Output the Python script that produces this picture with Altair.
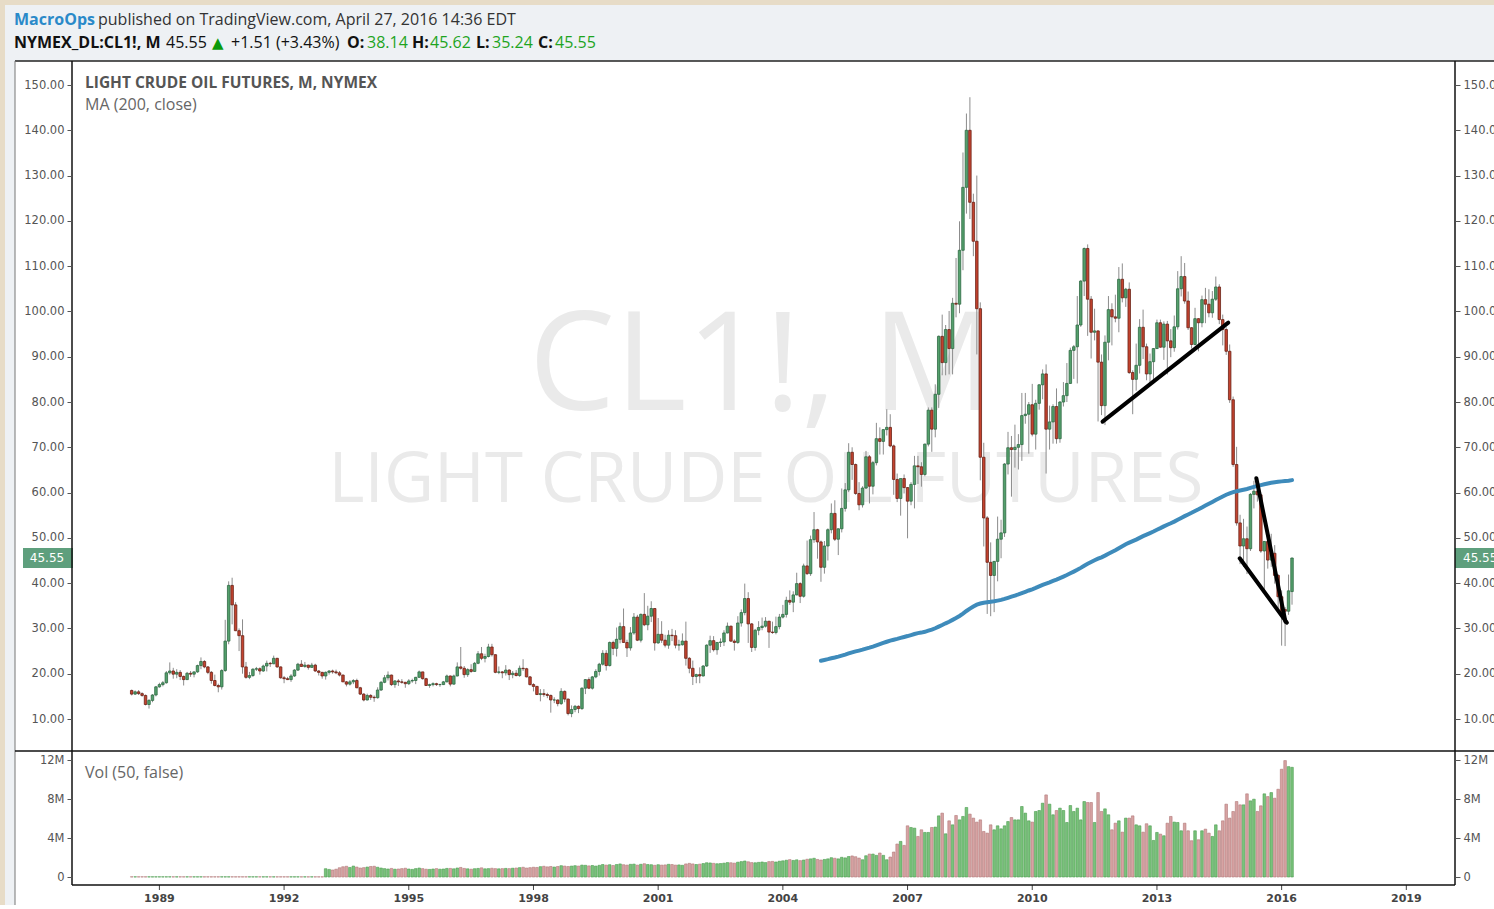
import altair as alt
import pandas as pd

# ---------------- data (monthly bars, first bar = May 1988) ----------------
FIRST_YEAR, FIRST_MONTH = 1988, 5

opens = [
    16.3, 15.5, 16.0, 15.6, 15.2, 13.2, 14.1, 15.3,
    17.1, 17.6, 18.0, 20.2, 20.6, 19.9, 20.3, 19.4, 18.7, 20.1, 19.9, 20.4,
    21.8, 22.7, 21.5, 20.3, 18.5, 17.4, 17.1, 20.7, 27.2, 39.5, 35.2, 29.5,
    28.4, 21.5, 19.2, 19.6, 21.0, 21.1, 20.6, 21.7, 22.3, 22.2, 23.4, 21.5,
    19.1, 18.9, 18.7, 19.5, 20.8, 22.1, 21.6, 21.9, 21.4, 21.9, 20.6, 20.3,
    19.5, 20.3, 20.6, 20.4, 20.2, 19.7, 18.2, 17.7, 18.2, 18.5, 16.9, 15.5,
    14.2, 15.2, 14.8, 14.7, 16.4, 18.1, 19.1, 19.7, 17.6, 18.4, 18.2, 18.1,
    17.8, 18.4, 18.5, 19.2, 20.4, 18.9, 17.4, 17.6, 17.8, 17.6, 17.6, 18.2,
    19.5, 17.7, 19.5, 21.5, 21.2, 19.8, 20.9, 20.5, 22.3, 24.4, 23.4, 23.8,
    25.9, 24.2, 20.3, 20.4, 20.2, 20.8, 19.8, 20.1, 19.6, 21.2, 21.1, 19.3,
    17.6, 17.2, 15.4, 15.6, 15.4, 15.2, 14.2, 14.2, 13.4, 16.1, 14.4, 11.2,
    12.1, 12.8, 12.3, 16.8, 18.7, 16.8, 19.3, 20.5, 22.1, 24.5, 21.8, 26.9,
    25.6, 27.6, 30.4, 26.9, 25.7, 29.0, 32.5, 27.4, 33.1, 30.8, 32.7, 34.4,
    26.8, 28.7, 27.4, 26.3, 28.5, 28.4, 26.3, 26.4, 27.2, 23.4, 21.2, 19.4,
    19.8, 19.5, 21.7, 26.3, 27.3, 25.3, 26.9, 27.0, 29.0, 30.5, 27.2, 26.9,
    31.2, 33.5, 36.6, 31.0, 25.8, 29.6, 30.2, 30.5, 31.6, 29.2, 29.1, 30.4,
    32.5, 33.1, 36.2, 35.8, 37.4, 39.9, 37.1, 43.8, 42.1, 49.6, 51.8, 49.1,
    43.5, 48.2, 51.8, 55.4, 49.7, 52.0, 56.5, 60.6, 68.9, 66.2, 59.8, 57.3,
    61.0, 67.9, 61.4, 66.6, 71.9, 71.3, 73.9, 74.4, 70.3, 62.9, 58.7, 63.1,
    61.1, 58.1, 61.8, 65.9, 65.7, 64.0, 70.7, 78.2, 74.0, 81.7, 94.5, 88.7,
    96.0, 91.8, 101.8, 101.6, 113.5, 127.4, 140.0, 124.1, 115.5, 100.6, 67.8, 54.4,
    44.6, 41.7, 44.8, 49.7, 51.1, 66.3, 69.9, 69.5, 70.0, 70.6, 77.0, 77.3,
    79.4, 72.9, 79.7, 83.8, 86.2, 74.0, 75.6, 79.0, 71.9, 80.0, 81.4, 84.1,
    91.4, 92.2, 97.0, 106.7, 113.9, 102.7, 95.4, 95.7, 88.8, 79.2, 93.2, 100.4,
    98.8, 98.5, 107.1, 103.0, 104.9, 86.5, 85.0, 88.1, 96.5, 92.2, 86.2, 88.9,
    91.8, 97.5, 92.1, 97.2, 93.5, 92.0, 96.6, 105.0, 107.7, 102.3, 96.4, 92.7,
    98.4, 97.5, 102.6, 101.6, 99.7, 102.7, 105.4, 98.2, 96.0, 91.2, 80.5, 66.2,
    53.3, 48.2, 49.8, 47.6, 59.6, 60.3, 59.5, 47.1, 49.2, 45.1, 46.6, 41.7,
    37.0, 34.2, 33.8, 38.14,
]
highs = [
    16.5, 16.3, 16.4, 15.9, 15.4, 14.4, 15.5, 17.3,
    18.0, 18.4, 20.6, 22.5, 21.3, 21.0, 20.8, 19.6, 20.4, 20.6, 20.5, 22.0,
    23.6, 23.0, 21.7, 20.6, 19.8, 17.8, 21.0, 31.9, 40.4, 41.2, 35.8, 30.0,
    32.0, 22.6, 20.4, 21.2, 21.5, 21.4, 22.0, 22.9, 22.6, 24.0, 23.5, 21.6,
    19.5, 19.3, 19.9, 21.0, 22.4, 23.0, 22.6, 22.0, 22.4, 22.2, 20.8, 20.4,
    20.5, 20.8, 20.9, 20.9, 20.6, 19.8, 18.4, 18.6, 18.8, 18.9, 17.1, 15.7,
    15.6, 15.5, 15.2, 17.0, 18.4, 19.7, 20.5, 19.8, 18.6, 18.8, 18.8, 18.2,
    18.8, 18.9, 19.3, 20.7, 20.4, 19.1, 17.8, 18.1, 18.0, 17.8, 18.4, 19.8,
    19.6, 19.8, 22.5, 25.9, 21.7, 21.2, 22.1, 22.6, 25.0, 25.9, 24.4, 26.6,
    26.6, 24.3, 21.6, 20.6, 21.9, 21.0, 20.6, 20.8, 21.8, 23.2, 21.3, 19.5,
    17.9, 17.3, 16.6, 16.6, 15.8, 15.4, 14.8, 14.3, 16.8, 16.3, 14.5, 13.0,
    13.1, 13.0, 17.0, 18.8, 19.2, 19.5, 21.0, 22.4, 25.2, 25.2, 27.1, 27.3,
    30.2, 31.3, 34.4, 27.5, 30.3, 33.4, 33.0, 33.3, 37.8, 35.0, 36.0, 34.4,
    32.3, 31.6, 28.6, 29.6, 29.9, 29.6, 27.5, 28.9, 31.5, 23.7, 22.9, 20.0,
    21.4, 21.9, 26.5, 28.4, 28.3, 26.9, 27.8, 29.6, 31.3, 30.6, 27.6, 32.7,
    34.2, 39.9, 38.0, 31.2, 29.9, 31.6, 32.4, 32.5, 31.6, 31.5, 32.6, 33.2,
    35.2, 37.0, 38.4, 38.2, 42.3, 40.2, 44.3, 49.4, 50.5, 55.7, 52.0, 49.4,
    49.3, 52.1, 57.6, 58.3, 52.1, 60.9, 62.1, 70.9, 70.0, 66.4, 62.3, 61.4,
    69.2, 68.3, 67.0, 75.4, 74.4, 74.0, 78.4, 77.3, 70.6, 64.2, 62.5, 64.0,
    61.2, 62.3, 68.1, 68.1, 66.7, 70.8, 78.8, 78.8, 83.9, 94.7, 99.3, 97.0,
    100.1, 103.0, 111.8, 119.9, 135.1, 143.7, 147.3, 126.0, 130.0, 102.0, 71.0, 54.8,
    49.0, 44.9, 54.7, 54.0, 66.5, 73.4, 72.5, 75.0, 72.9, 82.0, 82.0, 80.0,
    84.0, 80.5, 83.9, 87.2, 88.3, 79.2, 79.5, 83.0, 80.2, 84.4, 88.6, 92.0,
    92.6, 103.4, 106.9, 114.1, 114.8, 103.4, 100.6, 95.8, 90.5, 94.7, 103.4, 101.8,
    103.7, 109.8, 110.6, 105.2, 106.4, 87.0, 92.9, 98.3, 100.4, 92.9, 90.7, 91.9,
    98.2, 98.2, 97.8, 97.9, 96.1, 99.1, 108.9, 112.2, 110.7, 104.4, 96.5, 100.8,
    98.5, 103.5, 105.2, 104.9, 104.5, 107.7, 106.0, 99.3, 96.5, 92.7, 81.2, 70.1,
    55.1, 54.2, 52.5, 59.9, 62.6, 61.6, 59.6, 49.3, 49.5, 50.9, 48.4, 42.0,
    38.4, 34.7, 41.9, 45.62,
]
lows = [
    15.2, 15.3, 15.3, 14.9, 13.0, 12.3, 13.7, 15.0,
    16.9, 17.2, 17.8, 19.8, 18.9, 19.0, 18.6, 17.4, 18.6, 19.3, 19.2, 20.2,
    21.0, 21.2, 19.9, 17.8, 17.2, 15.9, 16.5, 20.4, 26.5, 30.9, 29.4, 25.0,
    20.0, 18.9, 18.8, 19.3, 20.6, 19.8, 20.4, 20.5, 21.5, 22.1, 21.3, 18.9,
    17.9, 18.6, 18.2, 19.3, 20.6, 21.6, 21.3, 20.9, 21.3, 20.4, 19.6, 18.9,
    18.7, 19.8, 20.0, 19.9, 19.4, 18.2, 17.2, 17.4, 17.7, 16.8, 15.3, 13.9,
    14.1, 14.2, 13.8, 14.5, 16.2, 17.9, 18.5, 17.3, 16.9, 17.3, 17.8, 16.9,
    17.5, 18.0, 17.7, 19.1, 18.7, 17.3, 16.9, 17.2, 17.3, 17.1, 17.5, 18.1,
    17.2, 17.6, 19.4, 20.9, 19.1, 19.3, 20.2, 20.4, 22.1, 23.0, 22.5, 23.6,
    23.8, 20.1, 19.9, 19.0, 19.6, 18.6, 19.0, 19.4, 19.3, 20.6, 19.2, 17.4,
    16.1, 15.3, 13.9, 14.9, 14.6, 11.4, 13.5, 12.8, 13.1, 13.7, 10.8, 10.4,
    11.5, 11.3, 12.0, 15.5, 16.6, 16.5, 19.0, 19.6, 21.8, 20.7, 21.6, 24.1,
    23.8, 26.7, 26.8, 23.7, 25.1, 28.6, 27.2, 26.9, 30.5, 29.6, 31.4, 25.1,
    26.6, 26.8, 25.8, 25.5, 27.2, 25.6, 25.1, 26.2, 21.8, 20.1, 17.5, 17.9,
    17.9, 19.4, 21.5, 24.6, 24.9, 24.2, 25.9, 26.1, 28.9, 27.0, 25.1, 26.6,
    30.4, 32.9, 26.8, 24.8, 25.1, 28.5, 29.6, 30.2, 25.7, 28.8, 28.7, 29.8,
    32.2, 32.4, 35.2, 33.6, 37.3, 35.6, 36.8, 41.8, 41.6, 48.9, 45.4, 40.3,
    42.1, 45.0, 51.0, 49.3, 46.2, 51.2, 55.8, 60.1, 62.8, 59.5, 56.1, 56.7,
    60.8, 57.6, 59.6, 66.0, 68.4, 68.4, 72.6, 70.0, 59.5, 57.9, 54.9, 59.8,
    49.9, 57.2, 56.5, 61.9, 61.3, 63.6, 70.2, 69.0, 72.2, 78.7, 85.9, 85.9,
    86.1, 86.1, 98.7, 99.6, 109.1, 121.6, 120.4, 112.2, 90.5, 62.7, 48.1, 33.2,
    32.7, 33.6, 40.4, 45.5, 50.2, 64.0, 59.1, 65.5, 65.1, 67.0, 75.2, 68.6,
    72.4, 69.5, 78.3, 80.6, 64.2, 69.5, 70.8, 70.8, 71.0, 79.0, 80.0, 84.0,
    85.1, 84.1, 96.6, 103.4, 94.6, 89.6, 93.6, 75.7, 77.1, 74.9, 89.2, 92.5,
    97.6, 95.4, 102.0, 101.0, 86.2, 77.3, 82.5, 86.3, 89.5, 84.8, 84.1, 84.1,
    91.7, 92.0, 89.3, 86.1, 89.9, 91.1, 96.0, 103.3, 101.7, 95.9, 91.8, 92.5,
    91.2, 96.5, 97.4, 98.7, 98.6, 102.3, 97.2, 92.5, 90.4, 79.8, 65.7, 52.7,
    44.2, 43.6, 42.0, 47.1, 56.5, 58.0, 46.7, 37.8, 43.2, 43.6, 39.9, 34.5,
    26.2, 26.1, 33.0, 35.24,
]
closes = [
    15.5, 16.0, 15.6, 15.2, 13.2, 14.1, 15.3, 17.1,
    17.6, 18.0, 20.2, 20.6, 19.9, 20.3, 19.4, 18.7, 20.1, 19.9, 20.4, 21.8,
    22.7, 21.5, 20.3, 18.5, 17.4, 17.1, 20.7, 27.2, 39.5, 35.2, 29.5, 28.4,
    21.5, 19.2, 19.6, 21.0, 21.1, 20.6, 21.7, 22.3, 22.2, 23.4, 21.5, 19.1,
    18.9, 18.7, 19.5, 20.8, 22.1, 21.6, 21.9, 21.4, 21.9, 20.6, 20.3, 19.5,
    20.3, 20.6, 20.4, 20.2, 19.7, 18.2, 17.7, 18.2, 18.5, 16.9, 15.5, 14.2,
    15.2, 14.8, 14.7, 16.4, 18.1, 19.1, 19.7, 17.6, 18.4, 18.2, 18.1, 17.8,
    18.4, 18.5, 19.2, 20.4, 18.9, 17.4, 17.6, 17.8, 17.6, 17.6, 18.2, 19.5,
    17.7, 19.5, 21.5, 21.2, 19.8, 20.9, 20.5, 22.3, 24.4, 23.4, 23.8, 25.9,
    24.2, 20.3, 20.4, 20.2, 20.8, 19.8, 20.1, 19.6, 21.2, 21.1, 19.3, 17.6,
    17.2, 15.4, 15.6, 15.4, 15.2, 14.2, 14.2, 13.4, 16.1, 14.4, 11.2, 12.1,
    12.8, 12.3, 16.8, 18.7, 16.8, 19.3, 20.5, 22.1, 24.5, 21.8, 26.9, 25.6,
    27.6, 30.4, 26.9, 25.7, 29.0, 32.5, 27.4, 33.1, 30.8, 32.7, 34.4, 26.8,
    28.7, 27.4, 26.3, 28.5, 28.4, 26.3, 26.4, 27.2, 23.4, 21.2, 19.4, 19.8,
    19.5, 21.7, 26.3, 27.3, 25.3, 26.9, 27.0, 29.0, 30.5, 27.2, 26.9, 31.2,
    33.5, 36.6, 31.0, 25.8, 29.6, 30.2, 30.5, 31.6, 29.2, 29.1, 30.4, 32.5,
    33.1, 36.2, 35.8, 37.4, 39.9, 37.1, 43.8, 42.1, 49.6, 51.8, 49.1, 43.5,
    48.2, 51.8, 55.4, 49.7, 52.0, 56.5, 60.6, 68.9, 66.2, 59.8, 57.3, 61.0,
    67.9, 61.4, 66.6, 71.9, 71.3, 73.9, 74.4, 70.3, 62.9, 58.7, 63.1, 61.1,
    58.1, 61.8, 65.9, 65.7, 64.0, 70.7, 78.2, 74.0, 81.7, 94.5, 88.7, 96.0,
    91.8, 101.8, 101.6, 113.5, 127.4, 140.0, 124.1, 115.5, 100.6, 67.8, 54.4, 44.6,
    41.7, 44.8, 49.7, 51.1, 66.3, 69.9, 69.5, 70.0, 70.6, 77.0, 77.3, 79.4,
    72.9, 79.7, 83.8, 86.2, 74.0, 75.6, 79.0, 71.9, 80.0, 81.4, 84.1, 91.4,
    92.2, 97.0, 106.7, 113.9, 102.7, 95.4, 95.7, 88.8, 79.2, 93.2, 100.4, 98.8,
    98.5, 107.1, 103.0, 104.9, 86.5, 85.0, 88.1, 96.5, 92.2, 86.2, 88.9, 91.8,
    97.5, 92.1, 97.2, 93.5, 92.0, 96.6, 105.0, 107.7, 102.3, 96.4, 92.7, 98.4,
    97.5, 102.6, 101.6, 99.7, 102.7, 105.4, 98.2, 96.0, 91.2, 80.5, 66.2, 53.3,
    48.2, 49.8, 47.6, 59.6, 60.3, 59.5, 47.1, 49.2, 45.1, 46.6, 41.7, 37.0,
    33.6, 33.8, 38.3, 45.55,
]
# volume in millions of contracts
volumes_m = [
    0.02, 0.02, 0.02, 0.02, 0.02, 0.02, 0.02, 0.02,
    0.02, 0.02, 0.02, 0.02, 0.02, 0.02, 0.02, 0.02, 0.02, 0.02, 0.02, 0.02,
    0.02, 0.02, 0.02, 0.02, 0.02, 0.02, 0.02, 0.02, 0.02, 0.02, 0.02, 0.02,
    0.02, 0.02, 0.02, 0.02, 0.02, 0.02, 0.02, 0.02, 0.02, 0.02, 0.02, 0.02,
    0.02, 0.02, 0.02, 0.02, 0.02, 0.02, 0.02, 0.02, 0.02, 0.02, 0.02, 0.02,
    0.85, 0.78, 0.72, 0.80, 0.95, 1.05, 1.10, 0.98, 1.12, 1.02, 0.92, 0.96,
    1.02, 1.08, 1.10, 1.00, 0.92, 0.86, 0.82, 0.88, 0.80, 0.82, 0.86, 0.90,
    0.82, 0.78, 0.86, 0.92, 0.86, 0.80, 0.78, 0.82, 0.86, 0.80, 0.82, 0.88,
    0.88, 0.84, 0.92, 0.98, 0.88, 0.84, 0.80, 0.85, 0.88, 0.94, 0.84, 0.86,
    0.90, 0.86, 0.84, 0.86, 0.88, 0.86, 0.90, 0.92, 0.96, 1.00, 0.92, 0.96,
    1.00, 0.98, 1.06, 1.10, 1.04, 1.08, 1.02, 1.08, 1.16, 1.12, 1.08, 1.12,
    1.16, 1.12, 1.22, 1.20, 1.14, 1.18, 1.12, 1.20, 1.28, 1.22, 1.26, 1.18,
    1.28, 1.34, 1.26, 1.22, 1.30, 1.32, 1.22, 1.30, 1.36, 1.28, 1.26, 1.20,
    1.26, 1.22, 1.24, 1.30, 1.28, 1.22, 1.24, 1.20, 1.34, 1.40, 1.34, 1.28,
    1.32, 1.38, 1.46, 1.44, 1.40, 1.36, 1.38, 1.42, 1.48, 1.46, 1.42, 1.52,
    1.58, 1.64, 1.56, 1.48, 1.46, 1.50, 1.54, 1.48, 1.58, 1.60, 1.54, 1.62,
    1.66, 1.72, 1.78, 1.70, 1.76, 1.68, 1.74, 1.82, 1.86, 1.92, 1.80, 1.74,
    1.80, 1.86, 1.98, 1.92, 1.86, 2.02, 1.96, 2.10, 2.16, 2.08,
    1.94, 1.77, 2.18, 2.35, 2.35, 2.22, 2.46, 2.22, 1.77, 2.05, 2.56, 3.38,
    3.65, 3.24, 5.25, 5.08, 5.01, 4.16, 4.84, 4.57,
    4.57, 5.08, 5.12, 6.27, 6.55, 4.43, 5.76, 5.35, 6.31, 5.86, 6.21, 7.13,
    6.45, 6.04, 5.63, 5.86,
    4.67, 4.50, 5.35, 4.84, 5.25, 4.94, 5.25, 5.69, 6.10, 5.86, 5.86, 7.23,
    6.55, 5.76, 5.63, 6.72, 6.82, 7.57, 8.42, 7.47, 6.38, 6.82, 7.06, 6.82,
    5.59, 7.33, 6.72, 7.06, 5.86, 7.74, 7.64, 7.64, 5.59, 8.66, 6.72, 6.99,
    6.38, 4.84, 5.52, 5.76, 4.60, 6.04, 6.04, 6.27, 5.35, 5.25, 4.60, 5.46,
    5.25, 3.75, 4.57, 4.40, 4.23, 5.52, 6.21, 5.63, 5.59,
    4.74, 5.52, 4.74, 3.72, 4.74, 3.82, 4.74, 4.91, 4.50, 4.16, 5.35, 4.74,
    5.76, 7.47, 6.04, 6.72, 7.74, 7.40, 7.40, 8.53, 7.81, 7.98, 6.72,
    7.30, 8.53, 8.25, 8.66, 8.08, 9.00, 11.05, 11.94, 11.32, 11.25,
]

# hand-drawn trend lines (month index from Jan 1989, price)
trend_m_start = [272.3, 311.9, 316.7]
trend_p_start = [75.66, 45.49, 63.16]
trend_m_end = [308.6, 325.5, 325.1]
trend_p_end = [97.52, 31.28, 31.5]

last_price = 45.55
price_ticks = [10, 20, 30, 40, 50, 60, 70, 80, 90, 100, 110, 120, 130, 140, 150]
vol_ticks = [0, 4e6, 8e6, 12e6]
year_ticks = [0, 36, 72, 108, 144, 180, 216, 252, 288, 324, 360]
year_labels = ["1989", "1992", "1995", "1998", "2001", "2004", "2007", "2010", "2013", "2016", "2019"]

# ---------------- layout constants (pixels) ----------------
W, H = 1383, 823
OX, OY = 72, 62

rows = []
for i, (o, h, l, c, v) in enumerate(zip(opens, highs, lows, closes, volumes_m)):
    k = FIRST_MONTH - 1 + i
    year = FIRST_YEAR + k // 12
    month = k % 12 + 1
    rows.append({"m": (year - 1989) * 12 + month - 1, "open": o, "high": h,
                 "low": l, "close": c, "vol": v * 1e6})
df = pd.DataFrame(rows)
df["ma"] = df["close"].rolling(200).mean()
ma_df = df.dropna(subset=["ma"])[["m", "ma"]]

x_scale = alt.Scale(domain=[-23.79, 372.61], nice=False, zero=False)
p_scale = alt.Scale(domain=[10, 150], range=[657, 23], nice=False, zero=False)
v_scale = alt.Scale(domain=[0, 12e6], range=[815, 698], nice=False, zero=False)

X = alt.X("m:Q", scale=x_scale, axis=None)
is_up = alt.datum.close >= alt.datum.open

paxis = dict(values=price_ticks, format=".2f", domain=False, grid=False, tickSize=5,
             tickColor="#555", labelColor="#555", labelFont="DejaVu Sans",
             labelFontSize=11.5, labelPadding=3, title=None, labelOverlap=False, zindex=2)
vaxis = dict(values=vol_ticks, labelExpr="datum.value == 0 ? '0' : (datum.value / 1000000) + 'M'",
             domain=False, grid=False, tickSize=5, tickColor="#555", labelColor="#555",
             labelFont="DejaVu Sans", labelFontSize=11.5, labelPadding=3, title=None,
             labelOverlap=False, zindex=2)

# ---------------- price panel ----------------
wicks = alt.Chart(df).mark_rule(color="#8c8c8c", strokeWidth=1).encode(
    x=X,
    y=alt.Y("low:Q", scale=p_scale, axis=alt.Axis(orient="left", **paxis)),
    y2="high:Q",
)
bodies = alt.Chart(df).mark_bar(size=2.5, strokeWidth=0.8).encode(
    x=X,
    y=alt.Y("open:Q", scale=p_scale, axis=alt.Axis(orient="right", **paxis)),
    y2="close:Q",
    fill=alt.condition(is_up, alt.value("#54a06c"), alt.value("#c4432f")),
    stroke=alt.condition(is_up, alt.value("#2e6a44"), alt.value("#6a2217")),
)
ma_line = alt.Chart(ma_df).mark_line(color="#3e8bbb", strokeWidth=4, strokeCap="round").encode(
    x=X, y=alt.Y("ma:Q", scale=p_scale, axis=None)
)
trend_df = pd.DataFrame({"m1": trend_m_start, "p1": trend_p_start,
                         "m2": trend_m_end, "p2": trend_p_end})
trend = alt.Chart(trend_df).mark_rule(color="#000", strokeWidth=4, strokeCap="round").encode(
    x=alt.X("m1:Q", scale=x_scale, axis=None), x2="m2:Q",
    y=alt.Y("p1:Q", scale=p_scale, axis=None), y2="p2:Q",
)
tag_df = pd.DataFrame({"price": [last_price], "label": [f"{last_price:.2f}"]})
PY = alt.Y("price:Q", scale=p_scale, axis=None)
tag_left = alt.Chart(tag_df).mark_rule(color="#5e9f7d", strokeWidth=20, strokeCap="butt").encode(
    x=alt.value(-49), x2=alt.value(1), y=PY)
tag_left_t = alt.Chart(tag_df).mark_text(color="white", font="DejaVu Sans", fontSize=12,
                                         align="center", baseline="middle").encode(
    x=alt.value(-25), y=PY, text="label:N")
tag_right = alt.Chart(tag_df).mark_rule(color="#5e9f7d", strokeWidth=20, strokeCap="butt").encode(
    x=alt.value(W), x2=alt.value(W + 50), y=PY)
tag_right_t = alt.Chart(tag_df).mark_text(color="white", font="DejaVu Sans", fontSize=12,
                                          align="left", baseline="middle").encode(
    x=alt.value(W + 8), y=PY, text="label:N")

price_layer = alt.layer(wicks, bodies, ma_line, trend, tag_left, tag_left_t, tag_right, tag_right_t)

# ---------------- volume panel ----------------
vol_bars = alt.Chart(df).mark_bar(size=2.6, strokeWidth=0.6).encode(
    x=X,
    y=alt.Y("vol:Q", scale=v_scale, stack=None, axis=alt.Axis(orient="left", **vaxis)),
    fill=alt.condition(is_up, alt.value("#79c27b"), alt.value("#d7a3a3")),
    stroke=alt.condition(is_up, alt.value("#4c9c4f"), alt.value("#b27878")),
)
vol_right = alt.Chart(pd.DataFrame({"v": vol_ticks})).mark_point(opacity=0).encode(
    y=alt.Y("v:Q", scale=v_scale, axis=alt.Axis(orient="right", **vaxis))
)
volume_layer = alt.layer(vol_bars, vol_right)

# time axis (ticks + labels placed through the x scale)
year_df = pd.DataFrame({"m": year_ticks, "label": year_labels})
year_ticks_l = alt.Chart(year_df).mark_rule(color="#444", strokeWidth=1).encode(
    x=X, y=alt.value(H), y2=alt.value(H + 5))
year_text_l = alt.Chart(year_df).mark_text(
    font="DejaVu Sans", fontSize=11, fontWeight="bold", color="#444",
    align="center", baseline="middle").encode(
    x=X, y=alt.value(899 - OY), text="label:N")

# ---------------- decorations (pixel positions relative to plot origin) ----------------
one = pd.DataFrame({"a": [0]})


def prect(x, y, x2, y2, **kw):
    return alt.Chart(one).mark_rect(**kw).encode(
        x=alt.value(x - OX), y=alt.value(y - OY), x2=alt.value(x2 - OX), y2=alt.value(y2 - OY))


def pline(x, y, x2, y2, **kw):
    return alt.Chart(one).mark_rule(**kw).encode(
        x=alt.value(x - OX), y=alt.value(y - OY), x2=alt.value(x2 - OX), y2=alt.value(y2 - OY))


def ptext(x, y, s, **kw):
    base = dict(font="Open Sans", fontSize=16, align="left", baseline="middle", color="#222")
    base.update(kw)
    return alt.Chart(one).mark_text(text=s, **base).encode(
        x=alt.value(x - OX), y=alt.value(y - OY))


backgrounds = [
    prect(5, 5, 1510, 920, color="#eef1f4"),
    prect(15, 61, 1510, 920, color="#ffffff"),
    ptext(762, 410, "CL1!, M", fontSize=137, align="center", baseline="alphabetic", color="#eaeaea"),
    ptext(766, 502, "LIGHT CRUDE OIL FUTURES", fontSize=69, align="center",
          baseline="alphabetic", color="#eaeaea"),
]

frame = [
    pline(15, 61, 1494, 61, color="#222", strokeWidth=1.5),
    pline(15, 61, 15, 909, color="#777", strokeWidth=1),
    pline(72, 61, 72, 885, color="#111", strokeWidth=1.5),
    pline(1455, 61, 1455, 885, color="#111", strokeWidth=1.5),
    pline(15, 751, 1494, 751, color="#111", strokeWidth=1.5),
    pline(72, 885, 1455, 885, color="#111", strokeWidth=1.5),
]

green = "#1ea41e"
texts = [
    ptext(85, 83, "LIGHT CRUDE OIL FUTURES, M, NYMEX", fontSize=15.5, fontWeight="bold", color="#555"),
    ptext(85, 105, "MA (200, close)", color="#666"),
    ptext(85, 773, "Vol (50, false)", color="#666"),
    ptext(14, 20, "MacroOps", fontWeight="bold", color="#2a8ac9"),
    ptext(98, 20, "published on TradingView.com, April 27, 2016 14:36 EDT", color="#333"),
    ptext(14, 43, "NYMEX_DL:CL1!, M", fontWeight="bold", color="#111"),
    ptext(166, 43, "45.55", color="#111"),
    ptext(212, 43, "\u25b2", font="DejaVu Sans", fontSize=15, color="#0a9a0a"),
    ptext(231, 43, "+1.51 (+3.43%)", color="#111"),
    ptext(347, 43, "O:", fontWeight="bold", color="#111"),
    ptext(367, 43, "38.14", color=green),
    ptext(412, 43, "H:", fontWeight="bold", color="#111"),
    ptext(430, 43, "45.62", color=green),
    ptext(476, 43, "L:", fontWeight="bold", color="#111"),
    ptext(492, 43, "35.24", color=green),
    ptext(538, 43, "C:", fontWeight="bold", color="#111"),
    ptext(555, 43, "45.55", color=green),
]

chart = alt.layer(
    *backgrounds, price_layer, volume_layer, year_ticks_l, year_text_l, *frame, *texts
).resolve_scale(
    y="independent"
).properties(
    width=W, height=H,
    padding={"left": OX, "top": OY, "right": 1494 - OX - W, "bottom": 20},
    autosize=alt.AutoSizeParams(type="none"),
    background="#e7dcc7",
).configure_view(stroke=None)

chart.save("out.html", embed_options={"renderer": "svg", "actions": False})
